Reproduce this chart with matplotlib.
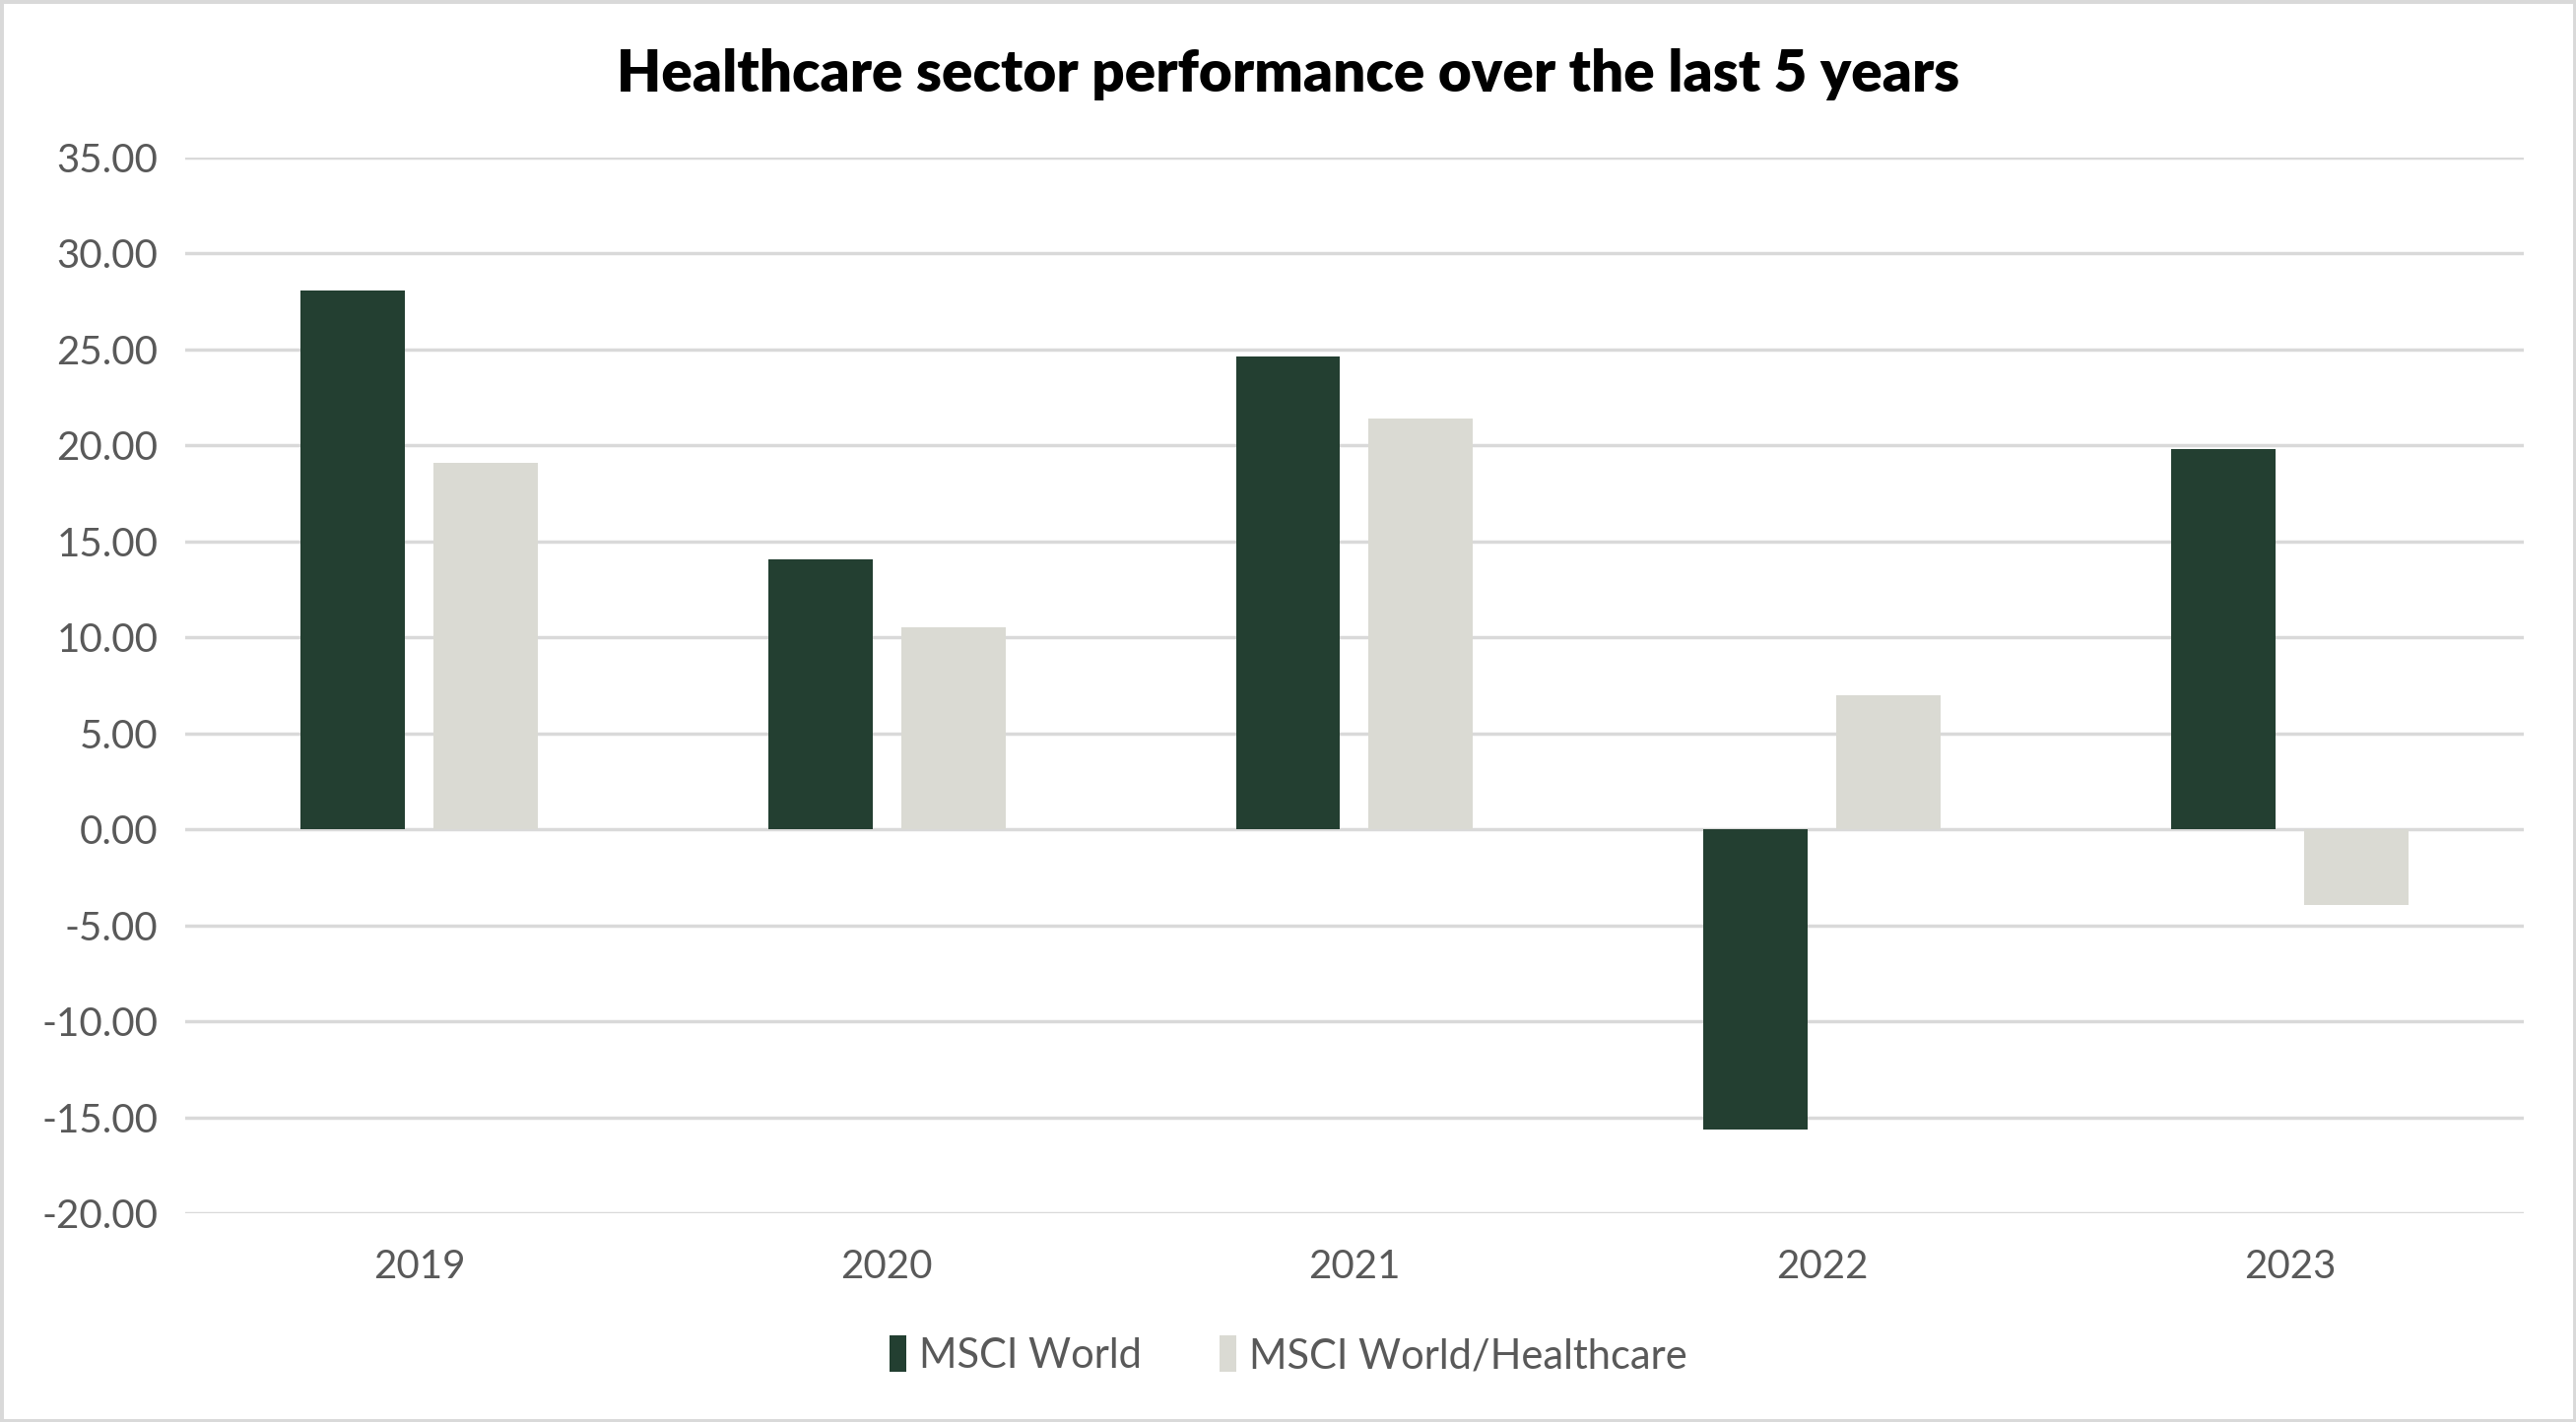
import matplotlib
matplotlib.use('Agg')
import matplotlib.pyplot as plt
import matplotlib.patches as mpatches
import numpy as np

plt.rcParams['font.family'] = ['Lato', 'DejaVu Sans']

years = ['2019', '2020', '2021', '2022', '2023']
msci_world = [28.05, 14.03, 24.64, -15.64, 19.79]
msci_health = [19.08, 10.52, 21.39, 6.97, -3.95]

dark = '#233f31'
light = '#dadad3'
grey_text = '#595959'

fig = plt.figure(figsize=(26.15, 14.44), dpi=100)
ax = fig.add_axes([0.0719, 0.1468, 0.9078, 0.7427])

x = np.arange(len(years))
w = 0.223
gap = 0.061
ax.bar(x - (w + gap) / 2, msci_world, w, color=dark, label='MSCI World', zorder=3)
ax.bar(x + (w + gap) / 2, msci_health, w, color=light, label='MSCI World/Healthcare', zorder=3)

ax.set_ylim(-20, 35)
ax.set_xlim(-0.5, len(years) - 0.5)
ax.set_yticks(np.arange(-20, 36, 5))
ax.set_yticklabels(['%.2f' % v for v in np.arange(-20, 36, 5)])
ax.set_xticks(x)
ax.set_xticklabels(years)

ax.yaxis.grid(True, color='#d9d9d9', linewidth=2.5)
ax.set_axisbelow(True)
for s in ax.spines.values():
    s.set_visible(False)
ax.tick_params(axis='both', length=0, labelsize=29, labelcolor=grey_text)
ax.tick_params(axis='y', pad=20)
ax.tick_params(axis='x', pad=26)

fig.text(0.5, 0.948, 'Healthcare sector performance over the last 5 years',
         ha='center', va='center', fontsize=42, fontweight='heavy', color='black')

leg = fig.legend(loc='center', bbox_to_anchor=(0.5, 0.047), ncol=2, frameon=False,
                 fontsize=30, handlelength=0.42, handleheight=1.0, handletextpad=0.3,
                 columnspacing=1.9, labelcolor=grey_text)

# light frame round the whole picture
fig.patches.append(mpatches.Rectangle((0, 0), 1, 1, transform=fig.transFigure,
                                      fill=False, edgecolor='#d9d9d9', linewidth=5))

plt.savefig('out.png', dpi=100)
